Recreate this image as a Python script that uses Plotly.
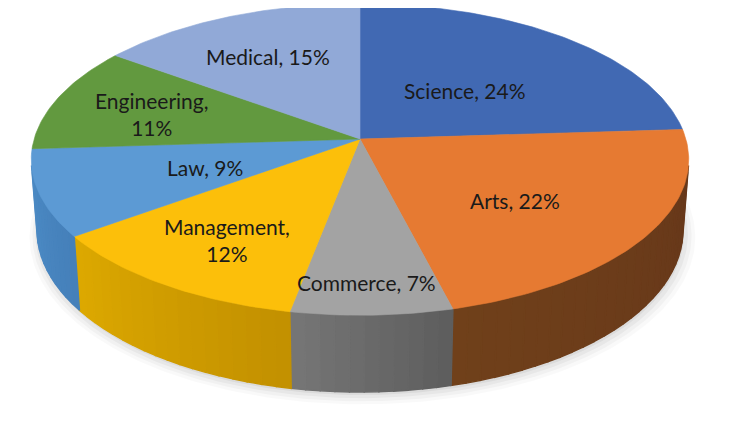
import numpy as np
import plotly.graph_objects as go

# ---- data ----
categories = ["Science", "Arts", "Commerce", "Management", "Law", "Engineering", "Medical"]
percent = [24, 22, 7, 12, 9, 11, 15]

# ---- style ----
top_colors = ["#4169B3", "#E67A32", "#A3A3A3", "#FCBF0A", "#5C9AD4", "#62993F", "#91A9D7"]
side_left = ["#2E4C85", "#70401A", "#767676", "#DDA900", "#4D8CC6", "#4B7A2E", "#6F86B0"]
side_right = ["#2A467A", "#65361A", "#5D5D5D", "#C29000", "#4580BA", "#43702A", "#6A80A8"]
label_pos = {
    "Science": (464, 90), "Arts": (515, 200), "Commerce": (366, 282),
    "Management": (227, 240), "Law": (205, 167), "Engineering": (152, 114),
    "Medical": (268, 56),
}
label_text = {
    "Science": "Science, 24%", "Arts": "Arts, 22%", "Commerce": "Commerce, 7%",
    "Management": "Management,<br>12%", "Law": "Law, 9%",
    "Engineering": "Engineering,<br>11%", "Medical": "Medical, 15%",
}

W, H = 729, 427
OFF = 8  # page body margin
# perspective camera
phi = np.radians(28)
c, s = np.cos(phi), np.sin(phi)
D = 6.69
K = 2180.0
CX, CY = 360.0, 139.0
THICK = 0.247


def proj(X, Y, Z):
    depth = D + Y * c - Z * s
    sx = CX + K * X / depth
    sy = CY - K * (Y * s + Z * c) / depth
    return sx, sy


def rim(t_deg, r=1.0, z=0.0):
    t = np.radians(t_deg)
    return proj(r * np.sin(t), r * np.cos(t), z)


def hex2rgb(h):
    h = h.lstrip("#")
    return np.array([int(h[i:i + 2], 16) for i in (0, 2, 4)], dtype=float)


def mix(a, b, f):
    ca, cb = hex2rgb(a), hex2rgb(b)
    v = ca + (cb - ca) * f
    return "rgb(%d,%d,%d)" % tuple(np.round(v))


fig = go.Figure()

# soft shadow under the pie
for r, dy, op in [(1.03, 6, 0.025), (1.02, 5, 0.03), (1.01, 4, 0.04), (1.0, 3, 0.05)]:
    tt = np.linspace(0, 360, 361)
    xs, ys = rim(tt, r, -THICK)
    fig.add_trace(go.Scatter(x=xs + dy * 0.4, y=ys + dy, fill="toself", mode="lines",
                             line=dict(width=0), fillcolor="rgba(0,0,0,%.3f)" % op,
                             hoverinfo="skip", showlegend=False))

# slice angles
bounds = np.concatenate([[0], np.cumsum(percent)]) / np.sum(percent) * 360.0
# silhouette angles of the cylinder side
t_sil = np.degrees(np.arccos(-1.0 / (D * c)))
vis_a, vis_b = t_sil, 360 - t_sil

# side faces
for i, cat in enumerate(categories):
    a, b = max(bounds[i], vis_a), min(bounds[i + 1], vis_b)
    if b <= a:
        continue
    n = max(1, int(np.ceil((b - a) / 2.5)))
    edges = np.linspace(a, b, n + 1)
    for j in range(n):
        t0, t1 = edges[j], edges[j + 1]
        tt = np.linspace(t0, t1, 4)
        xt, yt = rim(tt, 1.0, 0.0)
        xb, yb = rim(tt[::-1], 1.0, -THICK)
        xs = np.concatenate([xt, xb, xt[:1]])
        ys = np.concatenate([yt, yb, yt[:1]])
        f = ((t0 + t1) / 2 - bounds[i]) / (bounds[i + 1] - bounds[i])
        col = mix(side_right[i], side_left[i], f)
        fig.add_trace(go.Scatter(x=xs, y=ys, fill="toself", mode="lines",
                                 line=dict(width=1.4, color=col), fillcolor=col,
                                 hoverinfo="skip", showlegend=False))

# top faces
for i, cat in enumerate(categories):
    tt = np.linspace(bounds[i], bounds[i + 1], max(3, int(bounds[i + 1] - bounds[i]) + 2))
    xr, yr = rim(tt)
    x0, y0 = proj(0, 0, 0)
    xs = np.concatenate([[x0], xr, [x0]])
    ys = np.concatenate([[y0], yr, [y0]])
    fig.add_trace(go.Scatter(x=xs, y=ys, fill="toself", mode="lines",
                             line=dict(width=0.6, color=top_colors[i]),
                             fillcolor=top_colors[i], name=cat,
                             hovertemplate=cat + ": %d%%<extra></extra>" % percent[i],
                             showlegend=False))

for cat in categories:
    x, y = label_pos[cat]
    fig.add_annotation(x=x, y=y, text=label_text[cat], showarrow=False,
                       xanchor="center", yanchor="middle",
                       font=dict(family="Lato", size=21, color="#1A1A1A"))

fig.update_layout(
    width=W, height=H, margin=dict(l=0, r=0, t=0, b=0),
    paper_bgcolor="white", plot_bgcolor="white",
    xaxis=dict(range=[OFF, W + OFF], visible=False, fixedrange=True),
    yaxis=dict(range=[H + OFF, OFF], visible=False, fixedrange=True),
    showlegend=False,
)
fig.write_html("out.html")
